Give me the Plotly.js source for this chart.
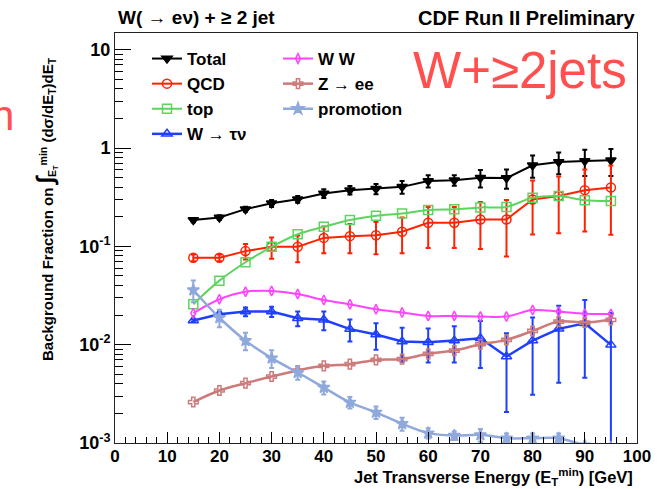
<!DOCTYPE html>
<html>
<head>
<meta charset="utf-8">
<script src="https://cdn.plot.ly/plotly-3.0.1.min.js"></script>
<style>html,body{margin:0;padding:0;background:#fff;}#chart{width:660px;height:489px;}</style>
</head>
<body>
<div id="chart"></div>
<script>
// Jet E_T^min thresholds [GeV]
const etMin = [15, 20, 25, 30, 35, 40, 45, 50, 55, 60, 65, 70, 75, 80, 85, 90, 95];

const totalVals = [0.185, 0.197, 0.239, 0.274, 0.302, 0.345, 0.373, 0.385, 0.403, 0.463, 0.471, 0.498, 0.495, 0.668, 0.723, 0.74, 0.75];
const totalErr  = [0.009, 0.010, 0.014, 0.022, 0.024, 0.035, 0.037, 0.046, 0.060, 0.065, 0.057, 0.10, 0.11, 0.17, 0.18, 0.22, 0.23];

const qcdVals = [0.0766, 0.0766, 0.0895, 0.099, 0.099, 0.122, 0.127, 0.130, 0.141, 0.174, 0.174, 0.188, 0.188, 0.30, 0.325, 0.373, 0.397];
const qcdErr  = [0.006, 0.006, 0.016, 0.024, 0.030, 0.037, 0.042, 0.047, 0.056, 0.078, 0.078, 0.094, 0.109, 0.168, 0.189, 0.231, 0.266];

const topVals = [0.0258, 0.0448, 0.0689, 0.099, 0.133, 0.158, 0.185, 0.205, 0.216, 0.234, 0.238, 0.249, 0.252, 0.312, 0.325, 0.295, 0.29];

const wtauVals = [0.0176, 0.0204, 0.0217, 0.0217, 0.0186, 0.0179, 0.0144, 0.0127, 0.0108, 0.0106, 0.0110, 0.0116, 0.00757, 0.0110, 0.0145, 0.0165, 0.00996];
const wtauErr  = [0.0005, 0.0012, 0.0022, 0.0026, 0.0032, 0.0039, 0.0036, 0.0038, 0.0041, 0.0040, 0.0044, 0.0058, 0.0055, 0.0079, 0.0104, 0.0119, 0.011];

const wwVals = [0.0209, 0.029, 0.0346, 0.0352, 0.0328, 0.0285, 0.0258, 0.0229, 0.0212, 0.0196, 0.0196, 0.0193, 0.0193, 0.0225, 0.0217, 0.0206, 0.0205];

const zeeVals = [0.00261, 0.00342, 0.00406, 0.00474, 0.00546, 0.00609, 0.00634, 0.0070, 0.00713, 0.00807, 0.00871, 0.0101, 0.0112, 0.0138, 0.0172, 0.0168, 0.0179];

const promoVals = [0.036, 0.0188, 0.0110, 0.0073, 0.00521, 0.00367, 0.00259, 0.00205, 0.00157, 0.00126, 0.00119, 0.00121, 0.00112, 0.00112, 0.00112, 0.00095, 0.0009];
const promoErr  = [0.009, 0.0038, 0.0022, 0.0015, 0.0008, 0.00055, 0.00034, 0.0003, 0.00024, 0.00015, 0.00012, 0.00018, 0.00013, 0.00013, 0.00013, 0.00002, 0.00002];

const yTickVals = [0.001, 0.01, 0.1, 1, 10];
const yTickText = ['10<sup>-3</sup>', '10<sup>-2</sup>', '10<sup>-1</sup>', '1', '10'];

const FONT = 'Liberation Sans, Arial, Helvetica, sans-serif';

function series(name, y, color, symbol, msize, opts) {
  opts = opts || {};
  const t = {
    type: 'scatter', mode: 'lines+markers', name: name, x: etMin, y: y,
    line: {color: color, width: opts.lw || 2, shape: opts.shape || 'linear', smoothing: 1},
    marker: {color: color, symbol: symbol, size: msize, line: {color: color, width: opts.mlw || 1.5}},
    legend: opts.legend || 'legend',
    cliponaxis: true
  };
  if (opts.err) {
    t.error_y = {type: 'data', array: opts.err, visible: true, color: color, thickness: opts.et || 2, width: 2.5};
  }
  return t;
}

const data = [
  series('Total', totalVals, '#000000', 'triangle-down', 9, {err: totalErr}),
  series('QCD', qcdVals, '#ff2200', 'circle-open', 9, {err: qcdErr, et: 2}),
  series('top', topVals, '#5fd35f', 'square-open', 9, {shape: 'spline'}),
  series('W \u2192 \u03c4\u03bd', wtauVals, '#1f3fff', 'triangle-up-open', 9, {err: wtauErr, lw: 2.5}),
  series('W W', wwVals, '#ff44ff', 'diamond-tall-open', 7, {shape: 'spline', legend: 'legend2'}),
  series('Z \u2192 ee', zeeVals, '#cd7a7a', 'cross-open', 8, {shape: 'spline', lw: 2.5, legend: 'legend2'}),
  series('promotion', promoVals, '#8fa9dc', 'star', 9, {shape: 'spline', lw: 2.5, err: promoErr, legend: 'legend2'})
];

const L = 115, R = 23, T = 33, B = 46;
const W = 660, H = 489;
const pw = W - L - R, ph = H - T - B;
const px = v => (v - L) / pw;
const py = v => (H - B - v) / ph;

const legendFont = {family: FONT, size: 17, color: '#000', weight: 'bold'};
const tickFont = {family: FONT, size: 18, color: '#000', weight: 'bold'};
const xTickFont = {family: FONT, size: 17, color: '#000', weight: 'bold'};

const layout = {
  width: W, height: H,
  margin: {l: L, r: R, t: T, b: B, pad: 0},
  paper_bgcolor: '#ffffff', plot_bgcolor: '#ffffff',
  font: {family: FONT, color: '#000'},
  showlegend: true,
  legend: {x: px(147), y: py(41), xanchor: 'left', yanchor: 'top', bgcolor: 'rgba(0,0,0,0)', font: legendFont, tracegroupgap: 0},
  legend2: {x: px(278), y: py(41), xanchor: 'left', yanchor: 'top', bgcolor: 'rgba(0,0,0,0)', font: legendFont, tracegroupgap: 0},
  xaxis: {
    range: [0, 100], dtick: 10, tick0: 0,
    ticks: 'inside', ticklen: 11, tickwidth: 1, tickcolor: '#000',
    minor: {ticks: 'inside', dtick: 2, ticklen: 6, tickcolor: '#000', showgrid: false},
    showline: true, linecolor: '#222', linewidth: 1, mirror: true,
    showgrid: false, zeroline: false,
    ticklabelstandoff: -2,
    tickfont: xTickFont
  },
  yaxis: {
    type: 'log', range: [-3, Math.log10(14.8)],
    tickmode: 'array', tickvals: yTickVals, ticktext: yTickText,
    ticks: 'inside', ticklen: 16, tickwidth: 1, tickcolor: '#000',
    minor: {ticks: 'inside', dtick: 'D1', ticklen: 8, tickcolor: '#000', showgrid: false},
    showline: true, linecolor: '#222', linewidth: 1, mirror: true,
    showgrid: false, zeroline: false,
    tickfont: tickFont
  },
  annotations: [
    {xref: 'paper', yref: 'paper', x: px(116), y: py(18), xanchor: 'left', yanchor: 'middle', showarrow: false,
     text: '<b>W( \u2192 e\u03bd) + \u2265 2 jet</b>', font: {family: FONT, size: 19, color: '#000'}},
    {xref: 'paper', yref: 'paper', x: px(638), y: py(18), xanchor: 'right', yanchor: 'middle', showarrow: false,
     text: '<b>CDF Run II Preliminary</b>', font: {family: FONT, size: 20, color: '#000'}},
    {xref: 'paper', yref: 'paper', x: px(634), y: py(489), xanchor: 'right', yanchor: 'bottom', showarrow: false, borderpad: 0,
     text: '<b>Jet Transverse Energy (E<sub>T</sub><sup>min</sup>) [GeV]</b>', font: {family: FONT, size: 16.5, color: '#000'}},
    {xref: 'paper', yref: 'paper', x: px(45), y: py(209), xanchor: 'center', yanchor: 'middle', showarrow: false, textangle: -90,
     text: '<b>Background Fraction on <span style="font-size:24px">\u222b</span><sub>E<sub>T</sub></sub><sup>min</sup> (d\u03c3/dE<sub>T</sub>)dE<sub>T</sub></b>',
     font: {family: FONT, size: 15, color: '#000'}},
    {xref: 'paper', yref: 'paper', x: px(520), y: py(71), xanchor: 'center', yanchor: 'middle', showarrow: false,
     text: 'W+\u22652jets', font: {family: FONT, size: 51, color: '#ff4f4f'}},
    {xref: 'paper', yref: 'paper', x: px(16), y: py(116), xanchor: 'right', yanchor: 'middle', showarrow: false,
     text: 'n', font: {family: FONT, size: 42, color: '#ff4f4f'}}
  ],
  shapes: [
    {type: 'circle', xref: 'paper', yref: 'paper', x0: px(640), x1: px(760), y0: py(6), y1: py(-70),
     fillcolor: 'rgba(80,80,170,0.75)', line: {width: 0}, layer: 'above'}
  ]
};

Plotly.newPlot('chart', data, layout, {displayModeBar: false, staticPlot: true});
</script>
</body>
</html>
